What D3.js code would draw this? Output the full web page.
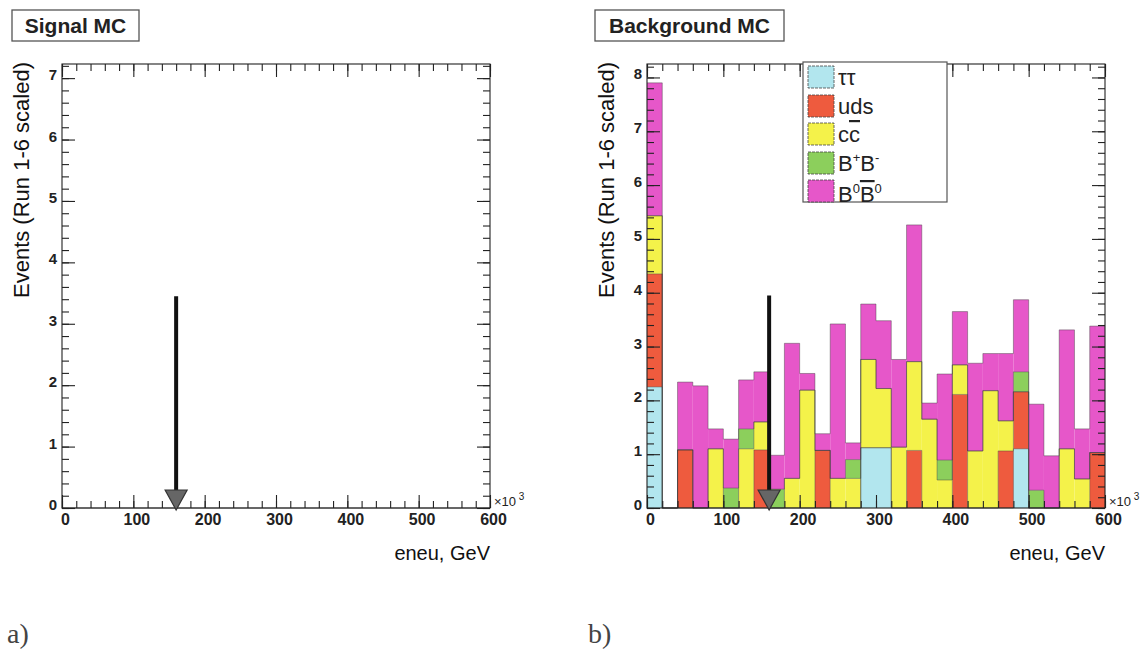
<!DOCTYPE html>
<html><head><meta charset="utf-8">
<script src="https://cdn.jsdelivr.net/npm/d3@7/dist/d3.min.js"></script>
<style>
body{margin:0;background:#fff;}
svg{display:block;font-family:"Liberation Sans",Arial,sans-serif;}
</style></head>
<body><svg id="c" width="1148" height="655"></svg>
<script>
// ---- data ----
const binStarts = [0,20,40,60,80,100,120,140,160,180,200,220,240,260,280,300,320,340,360,380,400,420,440,460,480,500,520,540,560,580];
const binWidth = 20; // x10^3 GeV
const seriesNames = ["ττ","uds","cc̄","B⁺B⁻","B⁰B̄⁰"];
const tautau = [2.25,0,0,0,0,0,0,0,0,0, 0,0,0,0,1.12,1.12,0,0,0,0, 0,0,0,0,1.10,0,0,0,0,0];
const uds    = [2.10,0,1.08,0,0,0,0,1.08,0,0, 0,1.07,0,0,0,0,0,1.07,0,0, 2.11,0,0,1.06,1.06,0,0,0,0,1.03];
const ccbar  = [1.08,0,0,0,1.10,0,1.10,0.52,0,0.55, 2.19,0,0.55,0.55,1.64,1.10,1.13,1.65,1.65,0.52, 0.55,1.06,2.18,0.56,0,0,0,1.10,0.54,0];
const bpbm   = [0,0,0,0,0,0.37,0.37,0,0.35,0, 0,0,0,0.35,0,0,0,0,0,0.37, 0,0,0,0,0.37,0.33,0,0,0,0];
const b0b0   = [2.47,0,1.26,2.27,0.37,0.91,0.91,0.93,0.63,2.51, 0.31,0.31,2.87,0.31,1.03,1.26,1.63,2.54,0.30,1.60, 0.99,1.63,0.69,1.25,1.34,1.60,0.97,2.21,0.93,2.35];
const signal = [0,0,0,0,0,0,0,0,0,0, 0,0,0,0,0,0,0,0,0,0, 0,0,0,0,0,0,0,0,0,0];
const seriesColors = ["#b2e6ee","#ee5b3e","#f4f24a","#8ccf5c","#e657c9"];
const xTicks = [0,100,200,300,400,500,600];
const cutValue = 160;
const arrowTopLeft = 3.45, arrowTopRight = 3.95;
const yMaxLeft = 7.23, yMaxRight = 8.25;

const svg = d3.select("#c");

function panel(opts){
  const g = svg.append("g");
  const x = d3.scaleLinear().domain([0,600]).range([opts.x0,opts.x1]);
  const y = d3.scaleLinear().domain([0,opts.yMax]).range([opts.y0,opts.y1]);

  if (opts.stack){
    const rows = binStarts.map((b,i)=>({b, s0:opts.stack[0][i], s1:opts.stack[1][i], s2:opts.stack[2][i], s3:opts.stack[3][i], s4:opts.stack[4][i]}));
    const st = d3.stack().keys(["s0","s1","s2","s3","s4"])(rows);
    st.forEach((layer,li)=>{
      g.append("g").selectAll("rect").data(layer.filter(d=>d[1]-d[0]>0)).join("rect")
        .attr("x",d=>x(d.data.b)).attr("width",d=>x(d.data.b+binWidth)-x(d.data.b))
        .attr("y",d=>y(d[1])).attr("height",d=>y(d[0])-y(d[1]))
        .attr("fill",seriesColors[li]);
    });
    st.forEach((layer,li)=>{
      const pts=[];
      layer.forEach(d=>{pts.push([x(d.data.b),y(d[1])]);pts.push([x(d.data.b+binWidth),y(d[1])]);});
      g.append("path").attr("d",d3.line()(pts)).attr("fill","none")
        .attr("stroke","#3a3a3a").attr("stroke-width",0.7).attr("stroke-opacity",0.6);
    });
  } else {
    const pts=[];
    opts.single.forEach((v,i)=>{pts.push([x(binStarts[i]),y(v)]);pts.push([x(binStarts[i]+binWidth),y(v)]);});
    g.append("path").attr("d",d3.line()(pts)).attr("fill","none").attr("stroke","#555").attr("stroke-width",0.8);
  }

  g.append("rect").attr("x",opts.x0).attr("y",opts.y1).attr("width",opts.x1-opts.x0).attr("height",opts.y0-opts.y1)
    .attr("fill","none").attr("stroke","#222").attr("stroke-width",1.1);

  const minorX = d3.range(0,601,20), minorY = d3.range(0,opts.yMax+1e-9,0.2);
  const majorY = d3.range(0,Math.floor(opts.yMax)+1,1);
  const axStyle = sel=>{sel.select(".domain").remove();sel.selectAll("line").attr("stroke","#222").attr("stroke-width",1.1);};
  g.append("g").attr("transform",`translate(0,${opts.y0})`)
    .call(d3.axisBottom(x).tickValues(xTicks).tickSize(-13).tickPadding(6).tickFormat(d3.format("d")))
    .call(axStyle).call(s=>s.selectAll("text").attr("font-size",16).attr("font-weight","bold").attr("fill","#222").attr("dx",3));
  g.append("g").attr("transform",`translate(0,${opts.y0})`)
    .call(d3.axisBottom(x).tickValues(minorX).tickSize(-7).tickFormat("")).call(axStyle);
  g.append("g").attr("transform",`translate(0,${opts.y1})`)
    .call(d3.axisTop(x).tickValues(xTicks).tickSize(-13).tickFormat("")).call(axStyle);
  g.append("g").attr("transform",`translate(0,${opts.y1})`)
    .call(d3.axisTop(x).tickValues(minorX).tickSize(-7).tickFormat("")).call(axStyle);
  g.append("g").attr("transform",`translate(${opts.x0},0)`)
    .call(d3.axisLeft(y).tickValues(majorY).tickSize(-13).tickPadding(5).tickFormat(d3.format("d")))
    .call(axStyle).call(s=>s.selectAll("text").attr("font-size",15).attr("font-weight","bold").attr("fill","#222").attr("dy","0.1em"));
  g.append("g").attr("transform",`translate(${opts.x0},0)`)
    .call(d3.axisLeft(y).tickValues(minorY).tickSize(-7).tickFormat("")).call(axStyle);
  g.append("g").attr("transform",`translate(${opts.x1},0)`)
    .call(d3.axisRight(y).tickValues(majorY).tickSize(-13).tickFormat("")).call(axStyle);
  g.append("g").attr("transform",`translate(${opts.x1},0)`)
    .call(d3.axisRight(y).tickValues(minorY).tickSize(-7).tickFormat("")).call(axStyle);

  const m = g.append("text").attr("x",opts.x1+4).attr("y",opts.y0-2).attr("font-size",13).attr("fill","#222");
  m.append("tspan").text("×10");
  m.append("tspan").attr("dy",-6).attr("font-size",10).text(" 3");

  g.append("text").attr("x",opts.x1).attr("y",opts.y0+52).attr("text-anchor","end").attr("font-size",20).attr("fill","#111").text("eneu, GeV");
  g.append("text").attr("transform",`translate(${opts.x0-33},${opts.y1-2}) rotate(-90)`).attr("text-anchor","end")
    .attr("font-size",22).attr("fill","#111").text("Events (Run 1-6 scaled)");

  const ax = x(cutValue);
  g.append("line").attr("x1",ax).attr("x2",ax).attr("y1",y(opts.arrowTop)).attr("y2",opts.y0-16)
    .attr("stroke","#111").attr("stroke-width",4);
  g.append("path").attr("d",`M${ax-11},${opts.y0-18} L${ax+11},${opts.y0-18} L${ax},${opts.y0+2} Z`)
    .attr("fill","#666").attr("stroke","#333").attr("stroke-width",1.2);

  g.append("rect").attr("x",opts.tb[0]).attr("y",10).attr("width",opts.tb[1]-opts.tb[0]).attr("height",31)
    .attr("fill","#fff").attr("stroke","#555").attr("stroke-width",1.3);
  g.append("text").attr("x",(opts.tb[0]+opts.tb[1])/2).attr("y",33).attr("text-anchor","middle")
    .attr("font-size",21).attr("font-weight","bold").attr("fill","#222").text(opts.title);

  svg.append("text").attr("x",opts.lab[0]).attr("y",643).attr("font-family","'Liberation Serif','DejaVu Serif',serif")
    .attr("font-size",28).attr("fill","#444").text(opts.lab[1]);
  return {x,y,g};
}

panel({x0:62,x1:490,y0:508,y1:64,yMax:yMaxLeft,single:signal,arrowTop:arrowTopLeft,tb:[12,139],title:"Signal MC",lab:[7,"a)"]});
panel({x0:647,x1:1105,y0:508,y1:64,yMax:yMaxRight,stack:[tautau,uds,ccbar,bpbm,b0b0],arrowTop:arrowTopRight,tb:[595,784],title:"Background MC",lab:[588,"b)"]});

// legend
const lg = svg.append("g");
lg.append("rect").attr("x",803).attr("y",62).attr("width",144).attr("height",140).attr("fill","#fff").attr("stroke","#555").attr("stroke-width",1.2);
const rowY = [77,106,134,163,191];
seriesNames.forEach((n,i)=>{
  lg.append("rect").attr("x",808).attr("y",rowY[i]-11).attr("width",26).attr("height",22)
    .attr("fill",seriesColors[i]).attr("stroke","#444").attr("stroke-width",0.8).attr("stroke-dasharray","3,1");
  const t = lg.append("text").attr("x",838).attr("y",rowY[i]+8).attr("font-size",22).attr("fill","#222");
  if(i===0){ t.text("ττ"); }
  else if(i===1){ t.text("uds"); }
  else if(i===2){ t.append("tspan").text("c"); t.append("tspan").style("text-decoration","overline").text("c"); }
  else if(i===3){ t.append("tspan").text("B"); t.append("tspan").attr("dy",-9).attr("font-size",13).text("+");
    t.append("tspan").attr("dy",9).text("B"); t.append("tspan").attr("dy",-9).attr("font-size",13).text("-"); }
  else { t.attr("y",rowY[i]+11); t.append("tspan").text("B"); t.append("tspan").attr("dy",-9).attr("font-size",13).text("0");
    t.append("tspan").attr("dy",9).style("text-decoration","overline").text("B"); t.append("tspan").attr("dy",-9).attr("font-size",13).text("0"); }
});
</script></body></html>
